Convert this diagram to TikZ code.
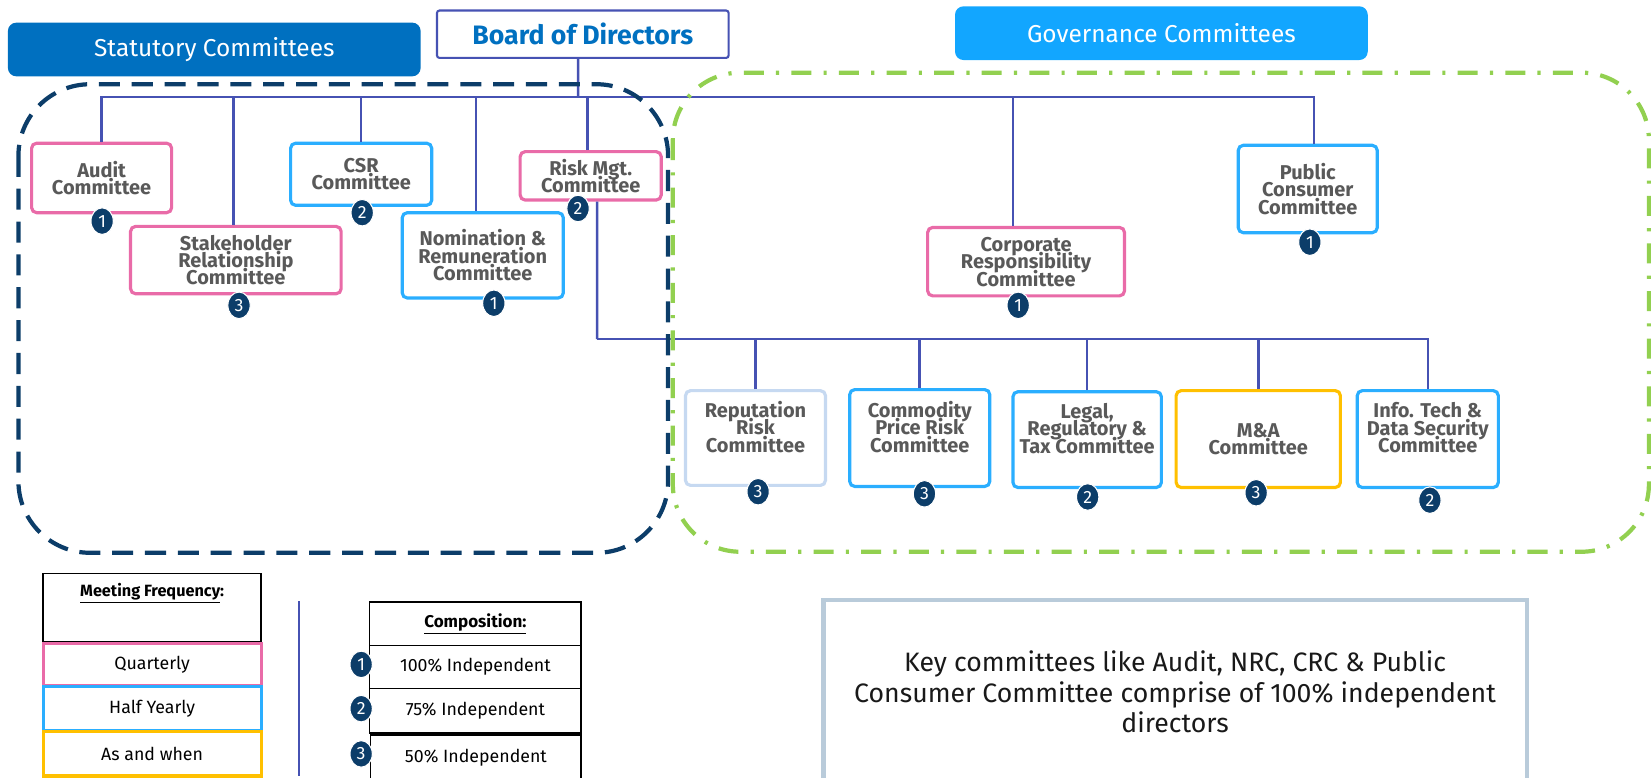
\documentclass[tikz,border=0pt]{standalone}
\usepackage{fontspec}
\setmainfont{Fira Sans}
\usetikzlibrary{shapes.geometric}
\definecolor{statblue}{HTML}{0070C0}
\definecolor{govblue}{HTML}{12A6FF}
\definecolor{qpink}{HTML}{E96BA8}
\definecolor{hblue}{HTML}{2AAEFF}
\definecolor{ayellow}{HTML}{FFC000}
\definecolor{paleblue}{HTML}{C6D9F1}
\definecolor{navy}{HTML}{0C3D69}
\definecolor{frgreen}{HTML}{92D050}
\definecolor{linemix}{HTML}{4652B3}
\definecolor{txtgray}{HTML}{595959}
\definecolor{keyframe}{HTML}{B9CBDA}

\begin{document}
\setlength{\lineskiplimit}{-20pt}
\begin{tikzpicture}[x=0.25mm, y=-0.25mm,
		conn/.style={draw=linemix, line width=0.6mm},
		cbox/.style={draw, fill=white, line width=0.75mm, rounded corners=1.2mm, align=center, inner sep=0pt, text=txtgray, font=\bfseries\fontsize{13.5}{11.8}\selectfont},
		qbox/.style={cbox, draw=qpink},
		hbox/.style={cbox, draw=hblue},
		abox/.style={cbox, draw=ayellow},
		pbox/.style={cbox, draw=paleblue},
		lowbox/.style={text depth=5.5mm},
		badge/.style={ellipse, fill=navy, draw=white, line width=0.25mm, minimum width=5.3mm, minimum height=6.3mm, inner sep=0pt, text=white, font=\fontsize{12}{12}\selectfont},
		head/.style={rounded corners=2mm, minimum width=98mm, minimum height=12.75mm, text=white, font=\fontsize{16.5}{18}\selectfont},
		legbox/.style={draw, fill=white, line width=0.4mm, minimum width=51.75mm, inner sep=0pt, font=\fontsize{12}{14}\selectfont}]
			\useasboundingbox (0,0) rectangle (1568,738);
			\coordinate (bus1) at (549,92);
			\coordinate (bus2) at (567,322);
			\node[head, fill=statblue] (stat) at (203.5,47) {Statutory Committees};
			\node[draw=linemix, line width=0.5mm, rounded corners=0.6mm, minimum width=69.25mm, minimum height=11.25mm, text=statblue, font=\bfseries\fontsize{18}{20}\selectfont] (bod) at (553.5,32.5) {Board of Directors};
			\node[head, fill=govblue] (gov) at (1103,31.5) {Governance Committees};
			\node[qbox, minimum width=33.25mm, minimum height=16.5mm] (audit) at (96.5,169) {Audit\\Committee};
			\node[qbox, minimum width=50mm, minimum height=16mm] (shr) at (224,247) {Stakeholder\\Relationship\\Committee};
			\node[hbox, minimum width=33.5mm, minimum height=14.75mm] (csr) at (343,165.5) {CSR\\Committee};
			\node[hbox, minimum width=38.25mm, minimum height=20.25mm] (nrc) at (458.5,242.5) {Nomination \&\\Remuneration\\Committee};
			\node[qbox, minimum width=33.5mm, minimum height=11.5mm] (risk) at (561,167) {Risk Mgt.\\Committee};
			\node[qbox, minimum width=46.75mm, minimum height=16.25mm] (crc) at (974.5,248.5) {Corporate\\Responsibility\\Committee};
			\node[hbox, minimum width=33mm, minimum height=20.75mm] (pcc) at (1242,179.5) {Public\\Consumer\\Committee};
			\node[pbox, lowbox, minimum width=33.25mm, minimum height=22.5mm] (rep) at (717.5,416) {Reputation\\Risk\\Committee};
			\node[hbox, lowbox, minimum width=33.25mm, minimum height=23mm] (cpr) at (873.5,416) {Commodity\\Price Risk\\Committee};
			\node[hbox, lowbox, minimum width=35.25mm, minimum height=22.75mm] (legal) at (1032.5,417.5) {Legal,\\Regulatory \&\\Tax Committee};
			\node[abox, minimum width=39mm, minimum height=23mm] (ma) at (1195,417) {M\&A\\Committee};
			\node[hbox, lowbox, minimum width=33.5mm, minimum height=23mm] (itc) at (1356,417) {Info. Tech \&\\Data Security\\Committee};
			\draw[conn] ([xshift=-1.1mm]bod.south) -- (bus1);
			\foreach \n/\dx in {audit/0, shr/-0.5, csr/0, nrc/-1.6, risk/-0.8, crc/-3.1, pcc/1.5}
				\draw[conn] ([xshift=\dx mm]\n.north) |- (bus1);
			\draw[conn] ([xshift=1.5mm]risk.south) -- (bus2);
			\foreach \n in {rep, cpr, legal, ma, itc}
				\draw[conn] (\n.north) |- (bus2);
			\draw[navy, line width=1mm, dash pattern=on 5mm off 2.8mm, rounded corners=17mm] (17.5,80) rectangle (634.5,525);
			\draw[frgreen, line width=1mm, dash pattern=on 4.75mm off 2.9mm on 0.75mm off 2.9mm, rounded corners=16mm] (639,69) rectangle (1566,524);
			\node[badge] (b-audit) at (97,210) {1};
			\node[badge] (b-shr) at (227,290) {3};
			\node[badge] (b-csr) at (344,202) {2};
			\node[badge] (b-nrc) at (469,288) {1};
			\node[badge] (b-risk) at (549,198) {2};
			\node[badge] (b-crc) at (967,290) {1};
			\node[badge] (b-pcc) at (1244,230) {1};
			\node[badge] (b-rep) at (720,467) {3};
			\node[badge] (b-cpr) at (878,469) {3};
			\node[badge] (b-legal) at (1033,472) {2};
			\node[badge] (b-ma) at (1193,468) {3};
			\node[badge] (b-itc) at (1358,475) {2};
			\node[legbox, anchor=north, text height=5.5mm, text depth=10.75mm, inner ysep=0pt, font=\bfseries\fontsize{11}{13}\selectfont] (mf) at (144.5,544) {\underline{Meeting Frequency}:};
			\node[legbox, draw=qpink, line width=0.75mm, minimum height=10mm] (lq) at (144.5,631) {Quarterly};
			\node[legbox, draw=hblue, line width=0.75mm, minimum height=10.5mm] (lh) at (144.5,673) {Half Yearly};
			\node[legbox, draw=ayellow, line width=0.75mm, minimum height=10.5mm] (la) at (144.5,716) {As and when};
			\draw[linemix, line width=0.6mm] (284,571) -- (284,737);
			\node[legbox, minimum width=50.25mm, minimum height=10.25mm, font=\bfseries\fontsize{11.5}{13}\selectfont] (comp) at (451.5,592.5) {\underline{Composition:}};
			\node[legbox, minimum width=50.25mm, minimum height=10.25mm] (c1) at (451.5,633.5) {100\% Independent};
			\node[legbox, minimum width=50.25mm, minimum height=10.5mm] (c2) at (451.5,675) {75\% Independent};
			\node[legbox, minimum width=50mm, minimum height=11mm] (c3) at (452,720) {50\% Independent};
			\node[badge] (k1) at (343,631) {1};
			\node[badge] (k2) at (343,673) {2};
			\node[badge] (k3) at (343,716) {3};
			\node[draw=keyframe, fill=white, line width=1mm, minimum width=167mm, minimum height=43.5mm, align=center, text=black!90, font=\fontsize{18}{20.6}\selectfont] (key) at (1116,657) {Key committees like Audit, NRC, CRC \& Public\\Consumer Committee comprise of 100\% independent\\directors};
		\end{tikzpicture}
\end{document}
